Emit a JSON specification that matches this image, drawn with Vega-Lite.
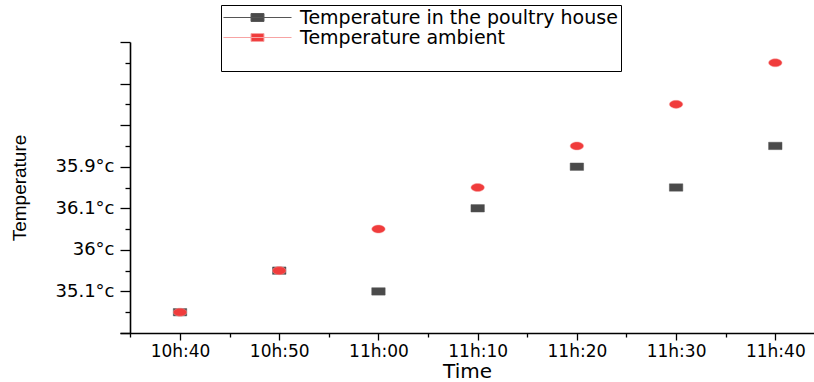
{
  "$schema": "https://vega.github.io/schema/vega-lite/v6.json",
  "autosize": {"type": "none"},
  "padding": {"left": 120, "top": 42, "right": 0, "bottom": 49},
  "width": 694,
  "height": 291,
  "background": "white",
  "config": {
    "view": {"stroke": null},
    "axis": {
      "domainColor": "black",
      "domainWidth": 1.6,
      "tickColor": "black",
      "tickWidth": 1.3,
      "labelColor": "black",
      "labelFont": "DejaVu Sans",
      "labelFontSize": 17,
      "titleColor": "black",
      "grid": false
    },
    "legend": {
      "title": null,
      "orient": "none",
      "legendX": 101,
      "legendY": -37,
      "direction": "vertical",
      "strokeColor": "black",
      "fillColor": "white",
      "padding": 3,
      "rowPadding": 0,
      "labelFont": "DejaVu Sans",
      "labelFontSize": 19,
      "labelColor": "black",
      "labelLimit": 600,
      "symbolSize": 324,
      "symbolStrokeWidth": 1,
      "symbolOffset": 24,
      "labelOffset": 33,
      "symbolType": "M-3.78,0H3.78M-0.72,-0.44H0.72V0.44H-0.72Z"
    }
  },
  "data": {
    "values": [
      {"time": "2020-01-01T10:40:00", "series": "Temperature in the poultry house", "temp": 0.5},
      {"time": "2020-01-01T10:50:00", "series": "Temperature in the poultry house", "temp": 1.5},
      {"time": "2020-01-01T11:00:00", "series": "Temperature in the poultry house", "temp": 1},
      {"time": "2020-01-01T11:10:00", "series": "Temperature in the poultry house", "temp": 3},
      {"time": "2020-01-01T11:20:00", "series": "Temperature in the poultry house", "temp": 4},
      {"time": "2020-01-01T11:30:00", "series": "Temperature in the poultry house", "temp": 3.5},
      {"time": "2020-01-01T11:40:00", "series": "Temperature in the poultry house", "temp": 4.5},
      {"time": "2020-01-01T10:40:00", "series": "Temperature ambient", "temp": 0.5},
      {"time": "2020-01-01T10:50:00", "series": "Temperature ambient", "temp": 1.5},
      {"time": "2020-01-01T11:00:00", "series": "Temperature ambient", "temp": 2.5},
      {"time": "2020-01-01T11:10:00", "series": "Temperature ambient", "temp": 3.5},
      {"time": "2020-01-01T11:20:00", "series": "Temperature ambient", "temp": 4.5},
      {"time": "2020-01-01T11:30:00", "series": "Temperature ambient", "temp": 5.5},
      {"time": "2020-01-01T11:40:00", "series": "Temperature ambient", "temp": 6.5}
    ]
  },
  "mark": {"type": "point", "filled": true, "opacity": 1, "size": 180, "strokeWidth": 0.5},
  "encoding": {
    "x": {
      "field": "time",
      "type": "temporal",
      "scale": {
        "domain": [
          {"year": 2020, "month": 1, "date": 1, "hours": 10, "minutes": 33, "seconds": 57},
          {"year": 2020, "month": 1, "date": 1, "hours": 11, "minutes": 43, "seconds": 54}
        ]
      },
      "axis": {
        "title": "Time",
        "titleFont": "DejaVu Sans",
        "titleFontSize": 20,
        "titleFontWeight": "normal",
        "titlePadding": 2,
        "labelPadding": 3,
        "labelFlush": false,
        "labelOverlap": false,
        "values": [
          {"year": 2020, "month": 1, "date": 1, "hours": 10, "minutes": 35},
          {"year": 2020, "month": 1, "date": 1, "hours": 10, "minutes": 40},
          {"year": 2020, "month": 1, "date": 1, "hours": 10, "minutes": 45},
          {"year": 2020, "month": 1, "date": 1, "hours": 10, "minutes": 50},
          {"year": 2020, "month": 1, "date": 1, "hours": 10, "minutes": 55},
          {"year": 2020, "month": 1, "date": 1, "hours": 11, "minutes": 0},
          {"year": 2020, "month": 1, "date": 1, "hours": 11, "minutes": 5},
          {"year": 2020, "month": 1, "date": 1, "hours": 11, "minutes": 10},
          {"year": 2020, "month": 1, "date": 1, "hours": 11, "minutes": 15},
          {"year": 2020, "month": 1, "date": 1, "hours": 11, "minutes": 20},
          {"year": 2020, "month": 1, "date": 1, "hours": 11, "minutes": 25},
          {"year": 2020, "month": 1, "date": 1, "hours": 11, "minutes": 30},
          {"year": 2020, "month": 1, "date": 1, "hours": 11, "minutes": 35},
          {"year": 2020, "month": 1, "date": 1, "hours": 11, "minutes": 40}
        ],
        "labelExpr": "minutes(datum.value) % 10 === 0 && hours(datum.value) * 60 + minutes(datum.value) >= 640 ? timeFormat(datum.value, '%Hh:%M') : ''",
        "tickSize": {"condition": {"test": "minutes(datum.value) % 10 === 0", "value": 7}, "value": 4}
      }
    },
    "y": {
      "field": "temp",
      "type": "quantitative",
      "scale": {"domain": [0, 7], "nice": false, "zero": false},
      "axis": {
        "title": "Temperature",
        "titleFont": "Liberation Sans",
        "titleFontSize": 19,
        "titleFontWeight": "normal",
        "titlePadding": 26,
        "offset": -10,
        "labelPadding": 6,
        "labelFontSize": 18,
        "labelOverlap": false,
        "labelFlush": false,
        "values": [0, 0.5, 1, 1.5, 2, 2.5, 3, 3.5, 4, 4.5, 5, 5.5, 6, 6.5, 7],
        "labelExpr": "datum.value === 1 ? '35.1°c' : datum.value === 2 ? '36°c' : datum.value === 3 ? '36.1°c' : datum.value === 4 ? '35.9°c' : ''",
        "tickSize": {"condition": {"test": "datum.value % 1 === 0", "value": 10}, "value": 5}
      }
    },
    "color": {
      "field": "series",
      "type": "nominal",
      "scale": {
        "domain": ["Temperature in the poultry house", "Temperature ambient", " "],
        "range": ["#4a4a4a", "#f03c3c", "transparent"]
      },
      "legend": {}
    },
    "stroke": {
      "field": "series",
      "type": "nominal",
      "scale": {
        "domain": ["Temperature in the poultry house", "Temperature ambient", " "],
        "range": ["#555555", "#f7a3a3", "transparent"]
      },
      "legend": {}
    },
    "shape": {
      "condition": {"test": "datum.series === 'Temperature ambient'", "value": "M-1,0A1,0.6,0,1,1,1,0A1,0.6,0,1,1,-1,0Z"},
      "value": "M-1,-0.55H1V0.55H-1Z"
    }
  }
}
